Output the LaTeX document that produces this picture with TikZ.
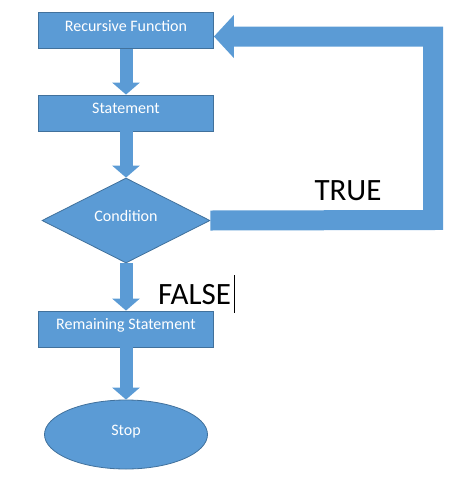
\documentclass[tikz,border=0pt]{standalone}
\usepackage{fontspec}
\setmainfont{Carlito}
\usetikzlibrary{shapes.geometric,arrows.meta}
\definecolor{boxblue}{HTML}{5B9BD5}
\definecolor{edgeblue}{HTML}{41719C}
\tikzset{
  x=1pt, y=-1pt,
  shapebox/.style={draw=edgeblue, line width=0.8pt, fill=boxblue, text=white,
    font=\fontsize{16}{19}\selectfont, inner sep=0pt, text height=11pt, text depth=9.6pt},
  procbox/.style={shapebox, rectangle, minimum width=175pt, minimum height=36pt},
  decbox/.style={shapebox, diamond, minimum width=168pt, minimum height=85pt},
  endbox/.style={shapebox, ellipse, minimum width=163pt, minimum height=69pt},
  flow/.style={draw=boxblue, line width=13pt, line cap=butt,
    -{Triangle[length=12pt,width=27pt]}},
  loopflow/.style={draw=boxblue, line width=20pt, line cap=butt, line join=miter,
    -{Triangle[length=20pt,width=42pt]}},
  biglabel/.style={font=\fontsize{31}{36}\selectfont, text=black, inner sep=0pt, anchor=base}
}
\begin{document}
\begin{tikzpicture}
\useasboundingbox (0,0) rectangle (474,483);
\node[procbox] (rf) at (126,30.5) {Recursive Function};
\node[procbox] (st) at (126,113) {Statement};
\node[decbox] (cond) at (126,220.5) {Condition};
\node[procbox] (rem) at (126,329) {Remaining Statement};
\node[endbox] (stop) at (126,434.5) {Stop};
\coordinate (br) at (433,220);
\coordinate (tr) at (433,36.5);
\draw[flow] (rf.south) -- (st.north);
\draw[flow] (st.south) -- (cond.north);
\draw[flow] (cond.south) -- (rem.north);
\draw[flow] (rem.south) -- (stop.north);
\draw[loopflow] (cond.east) -- (br) -- (tr) -- (rf.east |- tr);
\node[biglabel] (true) at (348,200) {TRUE};
\node[biglabel] (false) at (194.5,304) {FALSE};
\coordinate (cura) at (234,275);
\coordinate (curb) at (234,313);
\draw[black, line width=0.8pt] (cura) -- (curb);
\end{tikzpicture}
\end{document}
